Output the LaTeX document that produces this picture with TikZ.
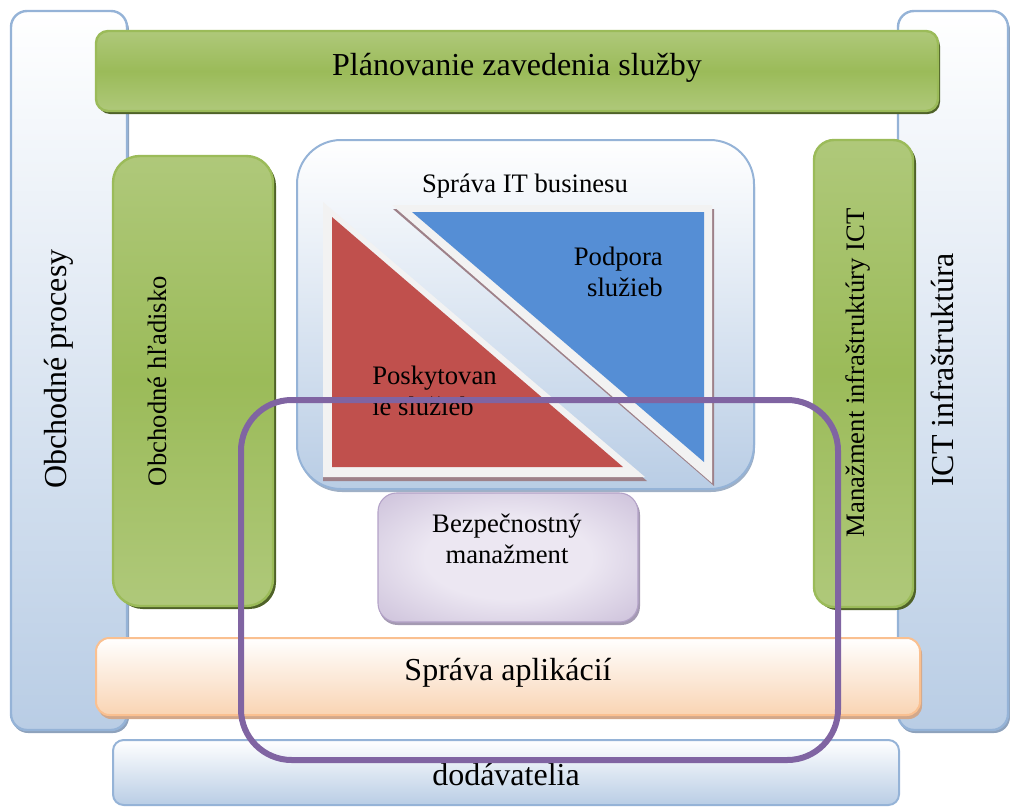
\documentclass[tikz,border=0pt]{standalone}
\usepackage{fontspec}
\setmainfont{Liberation Serif}

\definecolor{blueEdge}{HTML}{95B3D7}
\definecolor{blueFill}{HTML}{B9CDE5}
\definecolor{blueShadow}{HTML}{8EA2BC}
\definecolor{greenEdge}{HTML}{9BBB59}
\definecolor{greenLight}{HTML}{C3D69B}
\definecolor{greenShadow}{HTML}{4F6228}
\definecolor{orangeEdge}{HTML}{FAC090}
\definecolor{orangeFill}{HTML}{F9D4B3}
\definecolor{orangeShadow}{HTML}{D2A88B}
\definecolor{lilacDark}{HTML}{B3A2C7}
\definecolor{lilacLight}{HTML}{ECE7F2}
\definecolor{lilacShadow}{HTML}{A49AB2}
\definecolor{ringPurple}{HTML}{8064A2}
\definecolor{triRed}{HTML}{C0504D}
\definecolor{triBlue}{HTML}{558ED5}
\definecolor{triBand}{HTML}{F2F2F2}
\definecolor{triShadow}{HTML}{9E8189}
\definecolor{itShadow}{HTML}{9FB0C6}

\pgfdeclareverticalshading{greenband}{100bp}{color(0bp)=(greenLight); color(50bp)=(greenEdge); color(100bp)=(greenLight)}
\pgfdeclareradialshading{lilacglow}{\pgfpoint{0bp}{0bp}}{color(0bp)=(lilacLight); color(16bp)=(lilacLight); color(52bp)=(lilacDark)}

\begin{document}
\begin{tikzpicture}[x=0.75pt,y=-0.75pt,
  bluepanel/.style={draw=blueEdge, line width=1.8pt, top color=white, bottom color=blueFill},
  greenpanel/.style={draw=greenEdge, line width=1.8pt, shading=greenband},
  greendrop/.style={fill=greenShadow},
  bigtxt/.style={font=\fontsize{24}{29}\selectfont, inner sep=0pt},
  smalltxt/.style={font=\fontsize{20}{23.25}\selectfont, inner sep=0pt}]
\useasboundingbox (0,0) rectangle (1010,807);

% outer columns
\fill[blueShadow, rounded corners=12pt] (12,14) rectangle (129,733);
\draw[bluepanel, rounded corners=12pt] (11,11) rectangle (127,730);
\fill[blueShadow, rounded corners=12pt] (899,14) rectangle (1010,733);
\draw[bluepanel, rounded corners=12pt] (898,11) rectangle (1008,730);

% top green bar
\fill[greendrop, rounded corners=9pt] (98,34) rectangle (940,114);
\draw[greenpanel, rounded corners=9pt] (96,31) rectangle (938,111);

% side green panels
\fill[greendrop, rounded corners=20pt] (116,159) rectangle (276,609);
\draw[greenpanel, rounded corners=20pt] (113,156) rectangle (273,606);
\fill[greendrop, rounded corners=15pt] (817,143) rectangle (916,610);
\draw[greenpanel, rounded corners=15pt] (814,140) rectangle (913,607);

% IT business panel
\fill[itShadow, rounded corners=33pt] (298,143) rectangle (755,492);
\draw[draw=blueEdge, line width=1.5pt, top color=white, bottom color=blueFill, rounded corners=33pt] (297,140) rectangle (754,489);

% red triangle with its light band
\fill[triShadow] (323,206) -- (323,481) -- (647,481) -- cycle;
\fill[triBand] (323,202) -- (323,477) -- (645,477) -- cycle;
\fill[triRed] (332,217) -- (332,467) -- (623,467) -- cycle;

% blue triangle with its light band
\fill[triShadow] (393,209) -- (714,209) -- (714,486) -- cycle;
\fill[triBand] (392,205) -- (712,205) -- (712,483) -- cycle;
\fill[triBlue] (412,212) -- (704,212) -- (704,462) -- cycle;

% security panel
\fill[lilacShadow, rounded corners=14pt] (379,496) rectangle (640,625);
\draw[draw=lilacDark, line width=0.8pt, shading=lilacglow, rounded corners=14pt] (378,493) rectangle (638,622);

% application bar
\fill[orangeShadow, rounded corners=10pt] (98,641) rectangle (922,719);
\draw[draw=orangeEdge, line width=1.5pt, top color=white, bottom color=orangeFill, rounded corners=10pt] (96,638) rectangle (920,715);

% supplier bar
\draw[draw=blueEdge, line width=1.5pt, top color=white, bottom color=blueFill, rounded corners=8pt] (113,740) rectangle (899,805);

% labels
\node[bigtxt] (plan) at (517,68) {Plánovanie zavedenia služby};
\node[bigtxt, rotate=90] (procesy) at (59,369) {Obchodné procesy};
\node[bigtxt, rotate=90] (ictinf) at (942,370) {ICT infraštruktúra};
\node[smalltxt, rotate=90] (hladisko) at (157,381) {Obchodné hľadisko};
\node[smalltxt, rotate=90] (manazment) at (858,373) {Manažment infraštruktúry ICT};
\node[smalltxt] (itbusiness) at (525,186) {Správa IT businesu};
\node[smalltxt, align=right, anchor=east] (podpora) at (663,272) {Podpora\\služieb};
\node[smalltxt, align=left, anchor=west] (poskyt) at (372,391) {Poskytovan\\ie služieb};
\node[smalltxt, align=center] (bezp) at (507,539) {Bezpečnostný\\manažment};
\node[bigtxt] (aplik) at (508,673) {Správa aplikácií};
\node[bigtxt] (dodav) at (506,775) {dodávatelia};

% scope ring drawn over everything
\draw[ringPurple, line width=4.5pt, rounded corners=38pt] (241,400) rectangle (838,760);
\end{tikzpicture}
\end{document}
